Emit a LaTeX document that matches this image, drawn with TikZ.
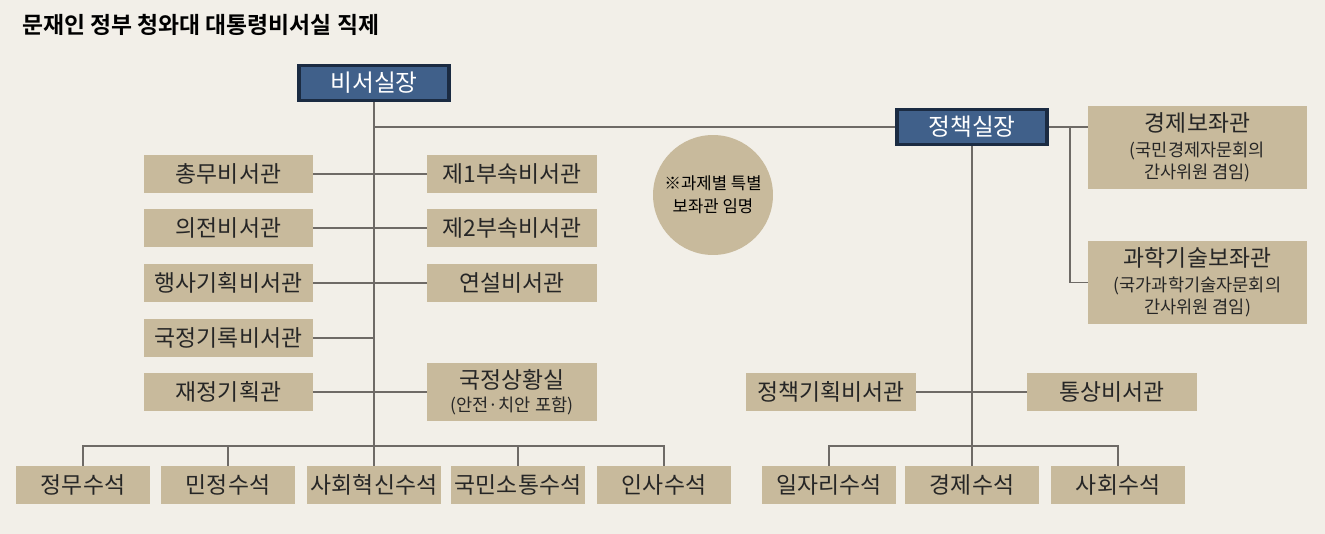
\documentclass[tikz,border=0pt]{standalone}
\usepackage{fontspec}
\setmainfont{Noto Sans CJK KR}
\newfontfamily\krbold{Noto Sans CJK KR Bold}
\definecolor{bg}{HTML}{F2EFE8}
\definecolor{tan}{HTML}{C8BA9C}
\definecolor{navy}{HTML}{40608A}
\definecolor{navyd}{HTML}{1B2B42}
\definecolor{ln}{HTML}{6E6A66}
\begin{document}
\begin{tikzpicture}[x=0.02cm,y=-0.02cm,
  tbox/.style={fill=tan,minimum height=0.76cm,inner sep=0pt,font=\fontsize{13}{15}\selectfont,text=black!85},
  head/.style={fill=navy,draw=navyd,line width=2pt,minimum width=3.0cm,minimum height=0.7cm,inner sep=0pt,text=white,font=\fontsize{13.5}{15}\selectfont},
  conn/.style={draw=ln,line width=0.8pt}]
\fill[bg] (0,0) rectangle (1325,534);
\useasboundingbox (0,0) rectangle (1325,534);
\node[anchor=west,font=\krbold\fontsize{13}{15}\selectfont] (title) at (16,25) {문재인 정부 청와대 대통령비서실 직제};
\node[head] (chief) at (374,83) {비서실장};
\node[head] (policy) at (972,127) {정책실장};
% left column
\foreach \n/\t/\y in {a/총무비서관/174,b/의전비서관/228,c/행사기획비서관/283,d/국정기록비서관/338,e/재정기획관/392}
  \node[tbox,minimum width=3.38cm] (\n) at (228.5,\y) {\t};
\foreach \n/\t/\y in {f/제1부속비서관/174,g/제2부속비서관/228,h/연설비서관/283}
  \node[tbox,minimum width=3.4cm] (\n) at (512,\y) {\t};
\node[tbox,minimum width=3.4cm,minimum height=1.18cm,align=center] (i) at (512,392) {국정상황실\\[-2pt]{\fontsize{10}{12}\selectfont (안전·치안 포함)}};
\node[circle,fill=tan,minimum size=2.4cm,inner sep=0pt,align=center,font=\fontsize{9.5}{13}\selectfont] (note) at (713,195) {※과제별 특별\\보좌관 임명};
\node[tbox,minimum width=4.38cm,minimum height=1.66cm,align=center] (eco) at (1197.5,147.5) {경제보좌관\\[-1pt]{\fontsize{10}{12}\selectfont (국민경제자문회의}\\[-2pt]{\fontsize{10}{12}\selectfont 간사위원 겸임)}};
\node[tbox,minimum width=4.38cm,minimum height=1.66cm,align=center] (sci) at (1197.5,282.5) {과학기술보좌관\\[-1pt]{\fontsize{10}{12}\selectfont (국가과학기술자문회의}\\[-2pt]{\fontsize{10}{12}\selectfont 간사위원 겸임)}};
\node[tbox,minimum width=3.4cm] (pp) at (831,392) {정책기획비서관};
\node[tbox,minimum width=3.4cm] (tr) at (1112,392) {통상비서관};
% bottom
\foreach \n/\t/\x in {s1/정무수석/83,s2/민정수석/228,s3/사회혁신수석/374,s4/국민소통수석/518,s5/인사수석/664,r1/일자리수석/829,r2/경제수석/972,r3/사회수석/1118}
  \node[tbox,minimum width=2.68cm] (\n) at (\x,485) {\t};
% connectors
\coordinate (sp) at (374,127);
\coordinate (lb) at (374,446);
\coordinate (rb) at (972,446);
\draw[conn] (chief.south) -- (lb);
\draw[conn] (sp) -- (policy.west);
\foreach \l/\r in {a/f,b/g,c/h} \draw[conn] (\l.east) -- (\r.west);
\draw[conn] (d.east) -- (d.east -| chief);
\draw[conn] (e.east) -- (i.west);
\draw[conn] (s1.north) -- (s1.north |- lb) -- (s5.north |- lb) -- (s5.north);
\foreach \n in {s2,s3,s4} \draw[conn] (\n.north) -- (\n.north |- lb);
\draw[conn] (policy.south) -- (rb);
\draw[conn] (r1.north) -- (r1.north |- rb) -- (r3.north |- rb) -- (r3.north);
\draw[conn] (r2.north) -- (rb);
\draw[conn] (pp.east) -- (tr.west);
\coordinate (bj) at (1070,127);
\draw[conn] (policy.east) -- (eco.west |- policy);
\draw[conn] (bj) -- (bj |- sci) -- (sci.west);
\end{tikzpicture}
\end{document}
